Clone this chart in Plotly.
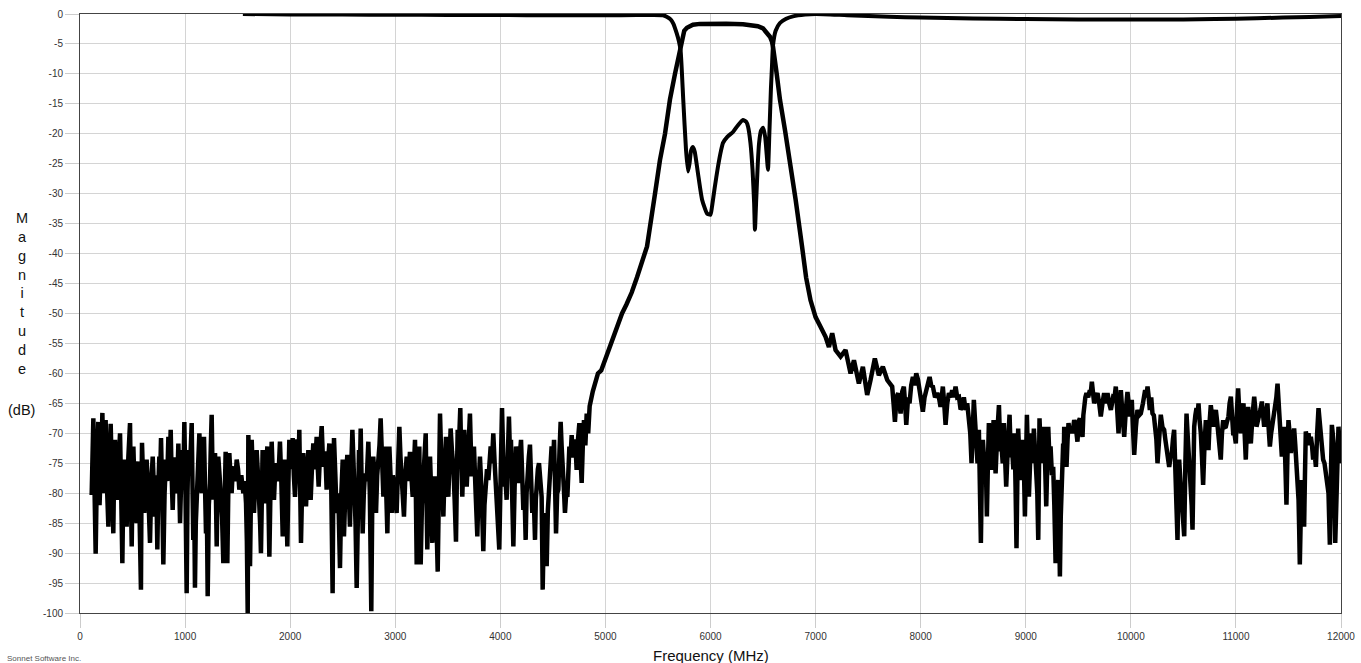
import plotly.graph_objects as go

# ---------------- data ----------------
# S21 noise floor, low side: (MHz, dB)
s21_low_noise = [
    (111, -80.3), (119, -76), (127, -67.5), (138, -79), (149, -90.1), (162, -75), (174, -68.1), (186, -82), (197, -78.3), (205, -72),
    (213, -66.6), (220, -77), (228, -80.0), (236, -73), (244, -67.8), (257, -79), (270, -85.6), (281, -75), (292, -68.4), (305, -78),
    (317, -86.7), (325, -76), (333, -71.1), (345, -77), (358, -81.1), (370, -74), (381, -70.0), (392, -80), (403, -91.7), (412, -79),
    (422, -74.4), (433, -81), (444, -85.6), (460, -74), (476, -68.3), (484, -80), (492, -88.9), (500, -78), (508, -72.2), (523, -82),
    (539, -85.0), (547, -77), (555, -74.7), (567, -84), (580, -96.1), (585, -80), (590, -71.6), (601, -78), (612, -83.3), (623, -76),
    (634, -74.4), (650, -80), (666, -88.3), (679, -78), (692, -73.9), (703, -79), (714, -83.9), (725, -77), (736, -89.4), (745, -79),
    (755, -73.9), (763, -77), (771, -70.8), (782, -80), (793, -91.9), (805, -80), (818, -74.4), (830, -78), (841, -70.6), (852, -76),
    (863, -69.4), (872, -77), (882, -82.8), (896, -74), (910, -77.2), (923, -80), (936, -71.7), (944, -79), (952, -85.0), (964, -77),
    (977, -72.8), (985, -76), (993, -68.1), (1004, -80), (1015, -96.7), (1023, -80), (1031, -72.8), (1047, -76), (1063, -68.3), (1070, -78),
    (1078, -87.8), (1086, -80), (1094, -95.8), (1102, -85), (1110, -81.1), (1123, -75), (1136, -70.0), (1147, -76), (1158, -80.0), (1169, -74),
    (1180, -70.6), (1190, -79), (1199, -86.7), (1207, -82), (1215, -97.2), (1226, -82), (1237, -78.3), (1245, -72), (1253, -66.9), (1261, -76),
    (1269, -81.1), (1277, -76), (1285, -73.3), (1293, -80), (1301, -88.9), (1309, -79), (1316, -73.9), (1328, -77), (1339, -80.6), (1352, -84),
    (1364, -91.7), (1375, -80), (1386, -73.1), (1394, -82), (1402, -91.7), (1411, -80), (1421, -73.3), (1432, -77), (1443, -80.0), (1454, -76),
    (1465, -75.6), (1478, -78), (1491, -74.4), (1504, -76), (1516, -79.4), (1535, -77), (1554, -80.0), (1567, -78), (1580, -81.7), (1588, -88),
    (1596, -100), (1599, -85), (1602, -70.3), (1610, -80), (1618, -92.2), (1626, -80), (1634, -71.1), (1645, -77), (1656, -83.3), (1669, -77),
    (1681, -72.8), (1694, -77), (1707, -80.6), (1714, -85), (1722, -90.0), (1730, -80), (1738, -72.8), (1749, -77), (1760, -81.7), (1771, -76),
    (1783, -72.2), (1792, -80), (1802, -90.6), (1813, -79), (1824, -71.4), (1835, -77), (1846, -81.1), (1858, -76), (1871, -75.0), (1887, -78),
    (1903, -71.4), (1916, -78), (1929, -87.2), (1940, -79), (1951, -74.4), (1962, -80), (1973, -88.9), (1982, -79), (1992, -71.1), (2008, -76),
    (2024, -70.8), (2035, -77), (2046, -80.6), (2057, -76), (2068, -71.0), (2077, -77), (2087, -69.4), (2095, -79), (2103, -88.3), (2114, -79),
    (2125, -73.3), (2138, -78), (2151, -82.2), (2162, -77), (2173, -72.8), (2184, -77), (2195, -81.1), (2207, -76), (2220, -71.7), (2236, -76),
    (2252, -70.6), (2261, -75), (2271, -78.9), (2285, -73), (2300, -68.8), (2311, -74), (2322, -75.6), (2334, -73), (2347, -79.4), (2360, -75),
    (2373, -71.7), (2391, -79), (2404, -96.7), (2410, -80), (2417, -70.8), (2430, -77), (2442, -83.3), (2458, -80), (2474, -92.5), (2487, -80),
    (2500, -74.4), (2506, -80), (2512, -87.2), (2528, -78), (2544, -73.6), (2556, -79), (2569, -85.6), (2580, -76), (2592, -69.4), (2601, -74),
    (2611, -77.8), (2622, -85), (2633, -95.8), (2644, -80), (2655, -72.8), (2663, -77), (2671, -69.2), (2680, -78), (2690, -86.7), (2701, -80),
    (2712, -76.7), (2728, -78), (2744, -71.4), (2758, -80), (2772, -99.7), (2781, -82), (2791, -73.9), (2804, -78), (2817, -83.3), (2828, -77),
    (2839, -75.0), (2850, -72), (2861, -67.5), (2874, -75), (2887, -80.6), (2894, -76), (2902, -72.2), (2913, -79), (2925, -86.7), (2934, -78),
    (2944, -72.2), (2955, -77), (2966, -83.3), (2977, -77), (2988, -78.3), (3000, -81), (3013, -83.3), (3026, -76), (3039, -68.9), (3050, -74),
    (3061, -77.8), (3072, -80), (3083, -83.9), (3096, -77), (3109, -73.9), (3124, -78), (3140, -73.1), (3153, -77), (3166, -80.6), (3177, -76),
    (3188, -71.1), (3196, -80), (3204, -91.9), (3216, -80), (3229, -72.2), (3235, -82), (3242, -91.9), (3254, -82), (3267, -78.3), (3278, -74),
    (3290, -70.0), (3297, -80), (3305, -89.4), (3318, -80), (3331, -73.9), (3342, -80), (3353, -88.3), (3365, -80), (3378, -77.2), (3391, -84),
    (3404, -93.1), (3415, -80), (3426, -66.7), (3436, -73), (3445, -77.8), (3451, -80), (3458, -83.9), (3470, -76), (3483, -70.6), (3494, -76),
    (3505, -80.6), (3516, -75), (3527, -69.2), (3540, -73), (3553, -75.6), (3565, -81), (3578, -88.1), (3586, -78), (3594, -69.4), (3606, -72),
    (3619, -65.8), (3628, -74), (3638, -80.6), (3647, -75), (3657, -69.4), (3668, -75), (3680, -78.9), (3695, -73), (3711, -66.7), (3719, -72),
    (3727, -77.2), (3738, -74), (3749, -72.2), (3765, -80), (3781, -87.2), (3793, -79), (3806, -73.9), (3822, -80), (3838, -89.7), (3849, -82),
    (3860, -79.4), (3873, -76), (3886, -77.8), (3897, -75), (3908, -72.2), (3920, -75), (3933, -70.0), (3946, -75), (3959, -78.9), (3975, -83),
    (3990, -89.4), (4003, -77), (4016, -65.8), (4025, -72), (4035, -78.9), (4047, -77), (4060, -81.1), (4071, -74), (4082, -67.2), (4091, -73),
    (4101, -71.1), (4112, -80), (4124, -88.9), (4136, -79), (4149, -72.2), (4160, -76), (4171, -78.3), (4184, -74), (4197, -71.1), (4208, -77),
    (4219, -82.8), (4230, -80), (4241, -87.8), (4250, -80), (4260, -75.0), (4271, -74), (4282, -71.9), (4293, -78), (4304, -83.3), (4317, -80),
    (4330, -87.8), (4338, -81), (4346, -77.8), (4357, -76), (4368, -75.0), (4380, -78), (4393, -80.6), (4398, -88), (4403, -96.1), (4414, -86),
    (4425, -83.3), (4433, -87), (4441, -92.2), (4452, -83), (4463, -78.9), (4476, -75), (4488, -72.2), (4500, -76), (4511, -71.1), (4520, -78),
    (4530, -86.7), (4541, -80), (4552, -79.4), (4563, -73), (4574, -68.1), (4583, -72), (4593, -74.4), (4604, -79), (4615, -83.3), (4627, -80),
    (4638, -80.6), (4647, -76), (4657, -72.2), (4668, -74), (4679, -70.3), (4690, -74), (4701, -73.3), (4713, -71), (4726, -76.1), (4739, -71),
    (4752, -68.3), (4763, -74), (4774, -78.3), (4785, -72), (4796, -67.8), (4809, -72), (4822, -66.7), (4836, -70),
]

# S21 filter skirts and passband: (MHz, dB)
s21_band = [
    (4850, -65.5), (4880, -63.0), (4929, -60.0), (4960, -59.5), (5000, -57.5), (5050, -55.0), (5100, -52.5), (5158, -50.0), (5200, -48.5),
    (5250, -46.5), (5300, -44.0), (5340, -42.0), (5377, -40.0), (5396, -38.8), (5472, -30.0), (5519, -24.4), (5567, -20.0), (5614, -14.3),
    (5662, -10.0), (5700, -6.8), (5720, -5.0), (5730, -3.8), (5750, -2.8), (5776, -2.3), (5833, -1.8), (5900, -1.65), (6014, -1.6),
    (6150, -1.62), (6309, -1.7), (6400, -1.85), (6450, -2.05), (6500, -2.4), (6530, -3.0), (6566, -3.8), (6585, -4.6), (6595, -5.5),
    (6630, -10.0), (6661, -14.3), (6710, -19.5), (6757, -24.4), (6810, -31.0), (6871, -38.8), (6910, -44.0),
]

# S21 noise floor, high side: (MHz, dB)
s21_high_noise = [
    (6952, -47.8), (7000, -50.6), (7047, -52.2), (7095, -53.9), (7127, -55.6), (7158, -53.3), (7190, -56.1), (7238, -57.2), (7285, -56.1), (7333, -60.0),
    (7365, -57.8), (7412, -61.7), (7450, -58.9), (7491, -63.6), (7523, -61.1), (7564, -57.5), (7602, -60.3), (7640, -58.9), (7682, -61.1), (7729, -62.2),
    (7742, -65), (7755, -68.1), (7770, -64), (7786, -63.3), (7797, -65), (7809, -66.7), (7825, -63), (7840, -62.2), (7852, -65), (7863, -68.6),
    (7880, -64), (7894, -65.0), (7910, -62), (7926, -60.6), (7942, -62), (7958, -60.0), (7974, -61), (7989, -62.8), (8005, -64), (8021, -66.4),
    (8037, -64), (8053, -62.8), (8069, -61), (8085, -60.6), (8100, -62), (8116, -62.2), (8137, -64), (8158, -63.3), (8174, -64), (8189, -65.6),
    (8200, -64), (8211, -62.2), (8224, -65), (8237, -68.6), (8253, -65), (8269, -63.3), (8285, -64), (8300, -62.8), (8316, -64), (8332, -62.2),
    (8348, -64), (8364, -63.9), (8380, -66), (8396, -65.6), (8411, -64), (8427, -66.1), (8443, -65), (8459, -67.2), (8472, -70), (8484, -75.0),
    (8495, -70), (8506, -64.4), (8518, -68), (8529, -70.6), (8541, -75), (8554, -69.4), (8564, -78), (8573, -88.3), (8583, -76), (8592, -71.1),
    (8602, -74), (8611, -77.8), (8620, -75), (8630, -83.9), (8640, -75), (8649, -68.3), (8660, -73), (8671, -76.1), (8683, -72), (8694, -67.8),
    (8704, -72), (8713, -76.7), (8729, -70), (8745, -65.3), (8758, -73), (8770, -72.2), (8781, -75), (8792, -68.3), (8803, -74), (8814, -78.9),
    (8830, -72), (8846, -66.9), (8858, -74), (8871, -72.8), (8882, -76), (8893, -70.0), (8903, -79), (8912, -89.2), (8920, -78), (8928, -69.2),
    (8939, -74), (8950, -77.8), (8962, -73), (8973, -71.1), (8983, -76), (8992, -83.9), (9002, -75), (9011, -66.9), (9021, -74), (9030, -80.6),
    (9043, -74), (9055, -70.0), (9066, -75), (9077, -69.2), (9089, -73), (9100, -75.6), (9110, -80), (9119, -87.8), (9125, -78), (9131, -67.5),
    (9144, -74), (9157, -72.2), (9165, -75), (9173, -68.9), (9184, -75), (9195, -82.2), (9205, -75), (9214, -68.9), (9225, -74), (9236, -72.2),
    (9249, -77), (9261, -75.6), (9272, -82), (9284, -91.7), (9297, -80), (9309, -77.8), (9317, -85), (9325, -93.9), (9333, -84), (9340, -80.0),
    (9348, -75), (9356, -71.7), (9361, -75), (9366, -68.9), (9377, -73), (9388, -75.6), (9398, -71), (9407, -68.3), (9418, -70), (9429, -68.9),
    (9445, -70), (9461, -67.8), (9477, -69), (9492, -71.4), (9504, -68), (9515, -67.5), (9528, -69), (9540, -70.6), (9548, -67), (9556, -65.0),
    (9567, -64), (9578, -63.3), (9594, -64), (9610, -62.8), (9620, -63), (9629, -61.4), (9640, -63), (9651, -65.0), (9667, -64), (9683, -63.3),
    (9699, -65), (9714, -67.2), (9730, -65), (9746, -63.3), (9762, -65), (9778, -63.3), (9794, -65), (9810, -66.1), (9821, -65), (9832, -63.9),
    (9845, -64), (9857, -62.2), (9870, -66), (9883, -70.0), (9894, -66), (9905, -62.8), (9921, -67), (9937, -70.6), (9953, -66), (9968, -63.1),
    (9979, -65), (9990, -67.2), (10000, -66), (10009, -64.4), (10020, -69), (10032, -73.6), (10048, -69), (10063, -66.1), (10079, -67), (10095, -66.7),
    (10115, -65), (10136, -62.8), (10147, -64), (10159, -62.2), (10170, -64), (10181, -66.1), (10194, -64), (10206, -66.7), (10219, -67), (10232, -68.9),
    (10243, -71), (10254, -75.0), (10270, -70), (10285, -66.9), (10301, -69), (10317, -69.4), (10328, -71), (10339, -72.2), (10352, -74), (10365, -75.6),
    (10378, -74), (10390, -73.3), (10401, -71), (10412, -69.4), (10420, -74), (10428, -78.9), (10436, -82), (10444, -87.8), (10452, -80), (10460, -74.4),
    (10472, -78), (10485, -81.1), (10496, -84), (10508, -87.2), (10519, -75), (10530, -66.7), (10543, -71), (10555, -74.4), (10563, -76), (10571, -78.3),
    (10579, -82), (10587, -86.1), (10595, -76), (10603, -68.9), (10614, -67), (10625, -65.8), (10635, -67), (10644, -65.0), (10655, -68), (10666, -70.0),
    (10677, -74), (10688, -78.6), (10701, -72), (10714, -67.8), (10726, -70), (10739, -72.8), (10750, -68), (10761, -65.3), (10772, -67), (10784, -68.9),
    (10796, -67), (10809, -66.1), (10821, -68), (10834, -70.0), (10845, -72), (10856, -74.4), (10867, -70), (10879, -67.8), (10891, -69), (10904, -68.9),
    (10916, -68), (10929, -67.2), (10940, -65), (10952, -63.9), (10963, -67), (10974, -70.0), (10986, -70), (10999, -71.7), (11010, -66), (11021, -62.5),
    (11034, -67), (11047, -70.0), (11060, -67), (11072, -65.0), (11083, -70), (11094, -74.4), (11105, -69), (11117, -65.6), (11129, -69), (11142, -71.7),
    (11158, -67), (11174, -63.9), (11185, -66), (11196, -68.9), (11208, -68), (11221, -67.2), (11234, -66), (11247, -64.7), (11258, -67), (11269, -68.9),
    (11285, -67), (11300, -65.0), (11311, -69), (11323, -72.2), (11335, -70), (11348, -68.3), (11361, -67), (11374, -66.1), (11385, -64), (11396, -61.7),
    (11407, -66), (11418, -68.9), (11427, -71), (11437, -73.9), (11448, -71), (11459, -68.9), (11470, -75), (11481, -81.9), (11490, -74), (11500, -67.8),
    (11511, -70), (11523, -73.3), (11538, -71), (11554, -69.2), (11565, -72), (11576, -75.0), (11586, -78), (11596, -81.1), (11602, -86), (11608, -91.9),
    (11617, -84), (11627, -77.8), (11638, -81), (11649, -85.6), (11657, -77), (11665, -69.7), (11678, -71), (11691, -70.0), (11702, -72), (11713, -70.6),
    (11724, -72), (11735, -74.4), (11748, -73), (11761, -75.6), (11773, -70), (11786, -65.8), (11797, -68), (11808, -70.6), (11819, -72), (11830, -74.4),
    (11843, -75), (11856, -76.7), (11868, -78), (11881, -80.0), (11887, -84), (11894, -88.6), (11903, -78), (11913, -68.6), (11921, -70), (11929, -71.7),
    (11937, -80), (11945, -88.3), (11952, -84), (11960, -80.0), (11968, -74), (11976, -68.9), (11983, -71), (11989, -74.4), (12000, -75.0),
]

# S11 response: (MHz, dB)
s11_points = [
    (1550, 0.0), (2000, -0.08), (2500, -0.1), (3000, -0.12), (3500, -0.15), (4000, -0.18), (4500, -0.2), (5000, -0.2), (5300, -0.18),
    (5450, -0.15), (5548, -0.2), (5583, -0.45), (5620, -0.9), (5646, -1.6), (5678, -3.2), (5700, -4.6), (5716, -6.2), (5741, -14.4),
    (5767, -22.7), (5786, -26.3), (5800, -25.0), (5815, -22.8), (5833, -22.2), (5850, -23.0), (5880, -26.5), (5920, -31.0), (5967, -33.3),
    (6000, -33.5), (6014, -32.2), (6040, -29.0), (6071, -25.5), (6100, -22.8), (6119, -21.5), (6160, -20.5), (6214, -19.7), (6260, -18.6),
    (6309, -17.7), (6340, -18.0), (6357, -18.8), (6380, -21.5), (6400, -26.0), (6415, -31.5), (6423, -36.0), (6435, -31.0), (6450, -25.0),
    (6462, -21.6), (6480, -19.5), (6500, -19.0), (6520, -20.5), (6535, -23.5), (6547, -26.0), (6560, -20.0), (6575, -12.5), (6585, -8.8),
    (6595, -5.2), (6620, -2.8), (6661, -1.5), (6720, -0.8), (6785, -0.4), (6900, -0.1), (7000, 0.0), (7300, -0.2), (7700, -0.45),
    (8000, -0.6), (8500, -0.75), (9000, -0.85), (9500, -0.9), (10000, -0.92), (10500, -0.9), (10800, -0.85), (11200, -0.7), (11700, -0.5),
    (12000, -0.35),
]

x_ticks = list(range(0, 12001, 1000))
y_ticks = list(range(-100, 1, 5))

# ---------------- figure ----------------
s21_all = s21_low_noise + s21_band + s21_high_noise
s21_freq = [p[0] for p in s21_all]
s21_db = [p[1] for p in s21_all]
s11_freq = [p[0] for p in s11_points]
s11_db = [p[1] for p in s11_points]

fig = go.Figure()
fig.add_trace(go.Scatter(x=s21_freq, y=s21_db, mode="lines",
                         line=dict(color="black", width=4.5), name="S21"))
fig.add_trace(go.Scatter(x=s11_freq, y=s11_db, mode="lines",
                         line=dict(color="black", width=4, shape="spline", smoothing=0.5), name="S11"))

tick_font = dict(family="Liberation Sans, Arial, sans-serif", size=10, color="#333333")
axis_style = dict(showgrid=True, gridcolor="#d4d4d4", gridwidth=1,
                  ticks="outside", ticklen=14, tickcolor="#cccccc", tickwidth=1,
                  showline=True, linecolor="#444444", linewidth=1, mirror=True,
                  zeroline=False, tickfont=tick_font)
fig.update_xaxes(range=[0, 12000], tickvals=x_ticks, ticktext=[str(v) for v in x_ticks], **axis_style)
fig.update_yaxes(range=[-100, 0], tickvals=y_ticks, ticktext=[str(v) for v in y_ticks], **axis_style)

label_font = dict(family="Liberation Sans, Arial, sans-serif", size=14.5, color="#111111")
fig.update_layout(
    width=1361, height=663,
    margin=dict(l=80, r=20, t=14, b=50, autoexpand=False),
    plot_bgcolor="white", paper_bgcolor="white",
    showlegend=False,
    annotations=[
        dict(text="M<br>a<br>g<br>n<br>i<br>t<br>u<br>d<br>e", xref="paper", yref="paper",
             x=-0.046, y=0.534, xanchor="center", yanchor="middle", showarrow=False, font=label_font),
        dict(text="(dB)", xref="paper", yref="paper",
             x=-0.046, y=(613 - 410) / 599, xanchor="center", yanchor="middle", showarrow=False, font=label_font),
        dict(text="Frequency (MHz)", xref="paper", yref="paper",
             x=0.5, y=(613 - 655) / 599, xanchor="center", yanchor="middle", showarrow=False,
             font=dict(family="Liberation Sans, Arial, sans-serif", size=15, color="#111111")),
        dict(text="Sonnet Software Inc.", xref="paper", yref="paper",
             x=(5 - 80) / 1261, y=(613 - 658) / 599, xanchor="left", yanchor="middle", showarrow=False,
             font=dict(family="Liberation Sans, Arial, sans-serif", size=8, color="#555555")),
    ],
)

fig.write_html("out.html",
               config={"displayModeBar": False},
               post_script="document.body.style.margin='0';document.body.style.padding='0';"
                           "document.body.style.overflow='hidden';")
